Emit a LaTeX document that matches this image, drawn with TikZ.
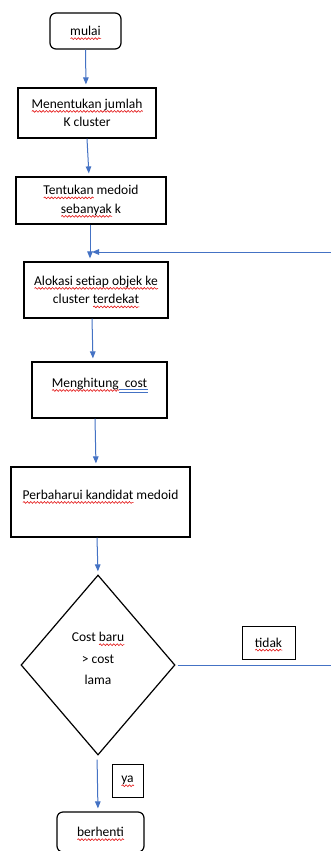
\documentclass[tikz,border=0pt]{standalone}
\usepackage{fontspec}
\setmainfont{Carlito}
\usetikzlibrary{shapes.geometric,arrows.meta,decorations.pathmorphing}
\definecolor{flowblue}{RGB}{68,114,196}
\definecolor{spellred}{RGB}{228,20,20}
\newsavebox\wordbox
\newcommand\spellwave[1]{\sbox\wordbox{#1}\rlap{\raisebox{0pt}[0pt][0pt]{\tikz[baseline=0pt,sharp corners]\draw[spellred,line width=.6pt,decorate,decoration={snake,amplitude=.9pt,segment length=3.4pt}] (0pt,-3pt) -- (\wd\wordbox,-3pt);}}\usebox\wordbox}
\newcommand\gramline[1]{\sbox\wordbox{#1}\rlap{\raisebox{0pt}[0pt][0pt]{\tikz[baseline=0pt,sharp corners]\draw[flowblue,line width=.7pt] (0pt,-2.4pt) -- (\wd\wordbox,-2.4pt) (0pt,-4.5pt) -- (\wd\wordbox,-4.5pt);}}\usebox\wordbox}
\begin{document}
\begin{tikzpicture}[x=1pt,y=-1pt,
  every node/.style={font=\fontsize{13.5}{18.5}\selectfont},
  procbox/.style={draw,line width=1.2pt,align=center,inner sep=0pt},
  termbox/.style={procbox,rounded corners=6pt},
  decision/.style={draw,diamond,line width=1.2pt,align=center,inner sep=0pt},
  tagbox/.style={draw,line width=1pt,inner sep=0pt},
  flow/.style={draw=flowblue,line width=1pt,-{Triangle[length=7pt,width=5.5pt]},shorten >=3pt}]
\fill[white] (0,0) rectangle (331,851);
\useasboundingbox (0,0) rectangle (331,851);
\node[termbox,minimum width=71pt,minimum height=36pt] (mulai) at (85.5,31) {\spellwave{mulai}};
\node[procbox,minimum width=138pt,minimum height=50pt] (menentukan) at (87,113) {\spellwave{Menentukan jumlah}\\K cluster};
\node[procbox,minimum width=150pt,minimum height=47pt] (tentukan) at (91,200.5) {\spellwave{Tentukan} medoid\\\spellwave{sebanyak} k};
\node[procbox,minimum width=144pt,minimum height=56pt] (alokasi) at (96,290) {\spellwave{Alokasi setiap objek ke}\\cluster \spellwave{terdekat}};
\node[procbox,minimum width=135pt,minimum height=56pt,text depth=14.5pt] (menghitung) at (99.5,390) {\spellwave{Menghitung}\gramline{\ \ cost}};
\node[procbox,minimum width=179pt,minimum height=70pt,text depth=14.5pt] (perbaharui) at (100.5,502) {\spellwave{Perbaharui kandidat} medoid};
\node[decision,minimum width=154pt,minimum height=180pt,text depth=13pt,font=\fontsize{13.5}{21.5}\selectfont] (cek) at (98,665) {Cost \spellwave{baru}\\> cost\\lama};
\node[termbox,minimum width=87pt,minimum height=40pt] (berhenti) at (100.5,832) {\spellwave{berhenti}};
\node[tagbox,minimum width=53pt,minimum height=33pt] (tidak) at (268.5,642.5) {\spellwave{tidak}};
\node[tagbox,minimum width=31pt,minimum height=33pt] (ya) at (127.5,780.5) {\spellwave{ya}};
\coordinate (rejoin) at (92,252);
\draw[flow] (mulai.south) -- ([xshift=-1pt]menentukan.north);
\draw[flow] (menentukan.south) -- ([xshift=-2pt]tentukan.north);
\draw[flow] ([xshift=-1pt]tentukan.south) -- ([xshift=-6pt]alokasi.north);
\draw[flow] ([xshift=-4pt]alokasi.south) -- ([xshift=-6.5pt]menghitung.north);
\draw[flow] ([xshift=-4.5pt]menghitung.south) -- ([xshift=-4.5pt]perbaharui.north);
\draw[flow] ([xshift=-3.5pt]perbaharui.south) -- (cek.north);
\draw[flow,shorten <=4pt] ([xshift=-1pt]cek.south) -- ([xshift=-2.5pt]berhenti.north);
\draw[flow,shorten >=0pt] ([xshift=2pt]cek.east) -- (338,665) |- (rejoin);
\end{tikzpicture}
\end{document}
